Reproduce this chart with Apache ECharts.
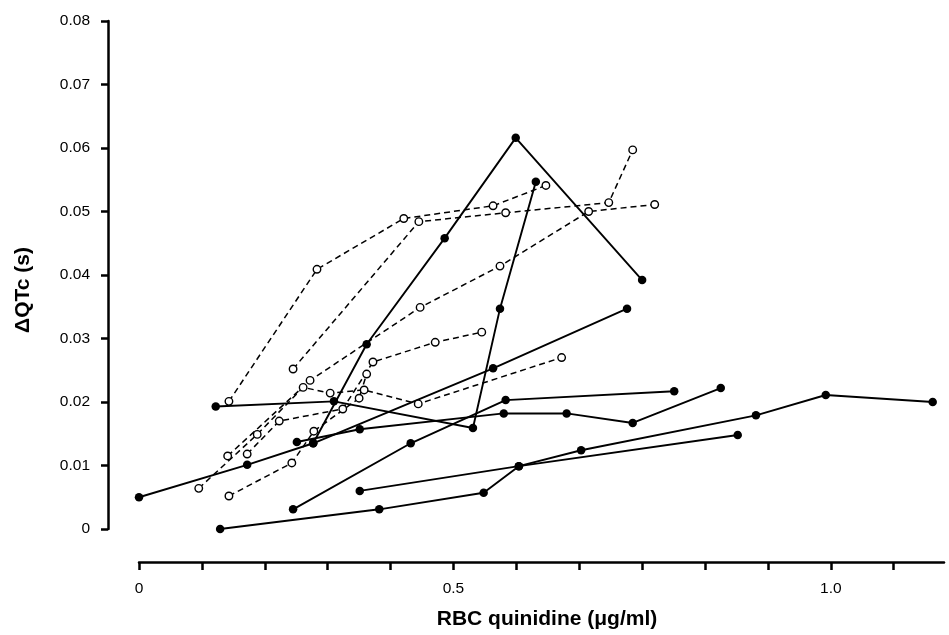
<!DOCTYPE html>
<html>
<head>
<meta charset="utf-8">
<script src="https://cdn.jsdelivr.net/npm/echarts@6/dist/echarts.min.js"></script>
<style>
html,body{margin:0;padding:0;background:#fff;}
#chart{width:949px;height:635px;}
</style>
</head>
<body>
<div id="chart"></div>
<script>
// Tick positions / labels (x in axis tick units)
var xTickValues = [0, 0.1, 0.2, 0.3, 0.4, 0.5, 0.6, 0.7, 0.8, 0.9, 1.0, 1.1, 1.2];
var xLabelValues = [0, 0.5, 1.1];
var xLabelTexts = ['0', '0.5', '1.0'];
var yTickLabels = ['0', '0.01', '0.02', '0.03', '0.04', '0.05', '0.06', '0.07', '0.08'];

// Solid lines, filled circles: [RBC quinidine, ΔQTc]
var solid1 = [[0.0, 0.0050], [0.172, 0.0101], [0.277, 0.0135], [0.563, 0.0253], [0.776, 0.0347]];
var solid2 = [[0.122, 0.0193], [0.310, 0.0201], [0.531, 0.0159], [0.574, 0.0347], [0.631, 0.0547]];
var solid3 = [[0.277, 0.0135], [0.362, 0.0291], [0.486, 0.0458], [0.599, 0.0616], [0.800, 0.0392]];
var solid4 = [[0.251, 0.0137], [0.351, 0.0157], [0.580, 0.0182], [0.680, 0.0182], [0.785, 0.0167], [0.925, 0.0222]];
var solid5 = [[0.245, 0.0031], [0.432, 0.0135], [0.583, 0.0203], [0.851, 0.0217]];
var solid6 = [[0.351, 0.0060], [0.604, 0.0099], [0.952, 0.0148]];
var solid7 = [[0.129, 0.0000], [0.382, 0.0031], [0.548, 0.0057], [0.604, 0.0099], [0.703, 0.0124], [0.981, 0.0179], [1.092, 0.0211], [1.262, 0.0200]];

// Dashed lines, open circles
var dashed1 = [[0.143, 0.0201], [0.283, 0.0409], [0.421, 0.0489], [0.563, 0.0509], [0.647, 0.0541]];
var dashed2 = [[0.245, 0.0252], [0.445, 0.0484], [0.583, 0.0498], [0.747, 0.0514], [0.785, 0.0597]];
var dashed3 = [[0.141, 0.0115], [0.272, 0.0234], [0.447, 0.0349], [0.574, 0.0414], [0.715, 0.0500], [0.820, 0.0511]];
var dashed4 = [[0.095, 0.0064], [0.188, 0.0149], [0.261, 0.0223], [0.304, 0.0214], [0.358, 0.0219], [0.444, 0.0197], [0.672, 0.0270]];
var dashed5 = [[0.172, 0.0118], [0.223, 0.0170], [0.324, 0.0189], [0.372, 0.0263], [0.471, 0.0294], [0.545, 0.0310]];
var dashed6 = [[0.143, 0.0052], [0.243, 0.0104], [0.278, 0.0154], [0.350, 0.0206], [0.362, 0.0244]];

var solidSets = [solid1, solid2, solid3, solid4, solid5, solid6, solid7];
var dashedSets = [dashed1, dashed2, dashed3, dashed4, dashed5, dashed6];

var FONT = 'Liberation Sans, Arial, Helvetica, sans-serif';
var series = [];
solidSets.forEach(function (d) {
  series.push({
    type: 'line', data: d, symbol: 'circle', symbolSize: 8.5, clip: false,
    lineStyle: { color: '#000', width: 1.9 },
    itemStyle: { color: '#000', borderColor: '#000', borderWidth: 0 },
    z: 2
  });
});
dashedSets.forEach(function (d) {
  series.push({
    type: 'line', data: d, symbol: 'circle', symbolSize: 7.5, clip: false,
    lineStyle: { color: '#000', width: 1.5, type: [6, 4] },
    itemStyle: { color: '#fff', borderColor: '#000', borderWidth: 1.4 },
    z: 3
  });
});

var chart = echarts.init(document.getElementById('chart'), null, { renderer: 'canvas' });
chart.setOption({
  animation: false,
  backgroundColor: '#fff',
  grid: { left: 139, right: 5, top: 21, bottom: 105, containLabel: false },
  xAxis: {
    type: 'value', min: 0, max: 1.28, offset: 33,
    name: 'RBC quinidine (\u03bcg/ml)', nameLocation: 'middle', nameGap: 47,
    nameTextStyle: { fontFamily: FONT, fontSize: 21, fontWeight: 'bold', color: '#000', padding: [0, 0, 0, 11] },
    axisLine: { show: true, onZero: false, lineStyle: { color: '#000', width: 2.5 } },
    axisTick: { show: true, length: 8, customValues: xTickValues, lineStyle: { color: '#000', width: 2.5 } },
    axisLabel: {
      customValues: xLabelValues, margin: 19, fontFamily: FONT, fontSize: 15.5, color: '#000',
      formatter: function (v) {
        for (var i = 0; i < xLabelValues.length; i++) { if (Math.abs(v - xLabelValues[i]) < 1e-6) return xLabelTexts[i]; }
        return '';
      }
    },
    splitLine: { show: false }
  },
  yAxis: {
    type: 'value', min: 0, max: 0.08, interval: 0.01, offset: 31,
    name: '\u0394QTc (s)', nameLocation: 'middle', nameGap: 74, nameRotate: 90,
    nameTextStyle: { fontFamily: FONT, fontSize: 21, fontWeight: 'bold', color: '#000', padding: [0, 30, 0, 0] },
    axisLine: { show: true, onZero: false, lineStyle: { color: '#000', width: 2.5 } },
    axisTick: { show: true, length: 7, lineStyle: { color: '#000', width: 2.5 } },
    axisLabel: {
      margin: 18, fontFamily: FONT, fontSize: 15.5, color: '#000',
      formatter: function (v) { return yTickLabels[Math.round(v / 0.01)]; }
    },
    splitLine: { show: false }
  },
  series: series
});
</script>
</body>
</html>
